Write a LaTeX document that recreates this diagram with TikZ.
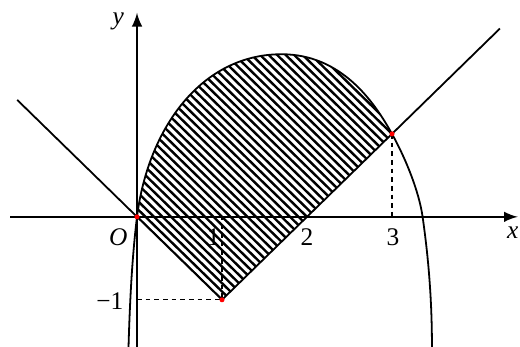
\documentclass[tikz,border=0pt]{standalone}
\usepackage{fontspec}
\setmainfont{Liberation Serif}
\begin{document}
\begin{tikzpicture}[>=latex, x=1cm, y=0.976cm, font=\fontsize{8.5}{10}\selectfont, line width=0.6pt]
            \useasboundingbox (-1.612,-1.566) rectangle (4.506,2.614);
            % Key points
            \coordinate (O) at (0,0);
            \coordinate (A) at (1,-1);
            \coordinate (B) at (3,1);
            \coordinate (C) at (1,0);
            \coordinate (D) at (3,0);
            \coordinate (E) at (0,-1);
            \coordinate (T) at (1.70,1.96);
            \coordinate (Z) at (3.36,0);
            \coordinate (L) at (-1.41,1.41);
            \coordinate (R) at (4.27,2.27);
            % Draw axes with arrows
            \draw[->] (-1.494,0) -- (4.48,0);
            \draw[->] (0,-1.566) -- (0,2.46);
            % Dashed guide lines
            \draw[line width=0.4pt, dash pattern=on 1.6pt off 1.3pt] (E) -- (A) -- (C);
            \draw[line width=0.4pt, dash pattern=on 1.6pt off 1.3pt] (B) -- (D);
            % Hatched region between the curve and the lines
            \begin{scope}
                \clip (L) -- (O) -- (A) -- (B) -- (5,3) -- (-1.5,3) -- cycle;
                \clip (-0.1,-1.57) .. controls (-0.085,-1.05) and (-0.06,-0.5) .. (O)
                    .. controls (0.13,1.07) and (0.76,1.96) .. (T)
                    .. controls (2.4,1.96) and (2.786,1.396) .. (B)
                    .. controls (3.167,0.692) and (3.319,0.297) .. (Z)
                    .. controls (3.429,-0.495) and (3.47,-1.0) .. (3.47,-1.57) -- cycle;
                \foreach \i in {-3,-2.9,...,5}
                    \draw[line width=0.8pt] (\i,2.6) -- ++(4.6,-4.6);
            \end{scope}
            % The curve
            \draw (-0.1,-1.57) .. controls (-0.085,-1.05) and (-0.06,-0.5) .. (O)
                .. controls (0.13,1.07) and (0.76,1.96) .. (T)
                .. controls (2.4,1.96) and (2.786,1.396) .. (B)
                .. controls (3.167,0.692) and (3.319,0.297) .. (Z)
                .. controls (3.429,-0.495) and (3.47,-1.0) .. (3.47,-1.57);
            % The broken line
            \draw (L) -- (O) -- (A) -- (B) -- (R);
            % Marked points
            \foreach \p in {O,A,B}
                \fill[red] (\p) circle (0.03);
            % Labels on the axes
            \node (xlab) at (4.42,-0.19) {\textit{x}};
            \node (ylab) at (-0.22,2.35) {\textit{y}};
            \node (olab) at (-0.22,-0.24) {\textit{O}};
            \node (one) at (0.9,-0.24) {1};
            \node (two) at (2.0,-0.24) {2};
            \node (three) at (3.01,-0.24) {3};
            \node (mone) at (-0.32,-1.02) {−1};
    \end{tikzpicture}
\end{document}
